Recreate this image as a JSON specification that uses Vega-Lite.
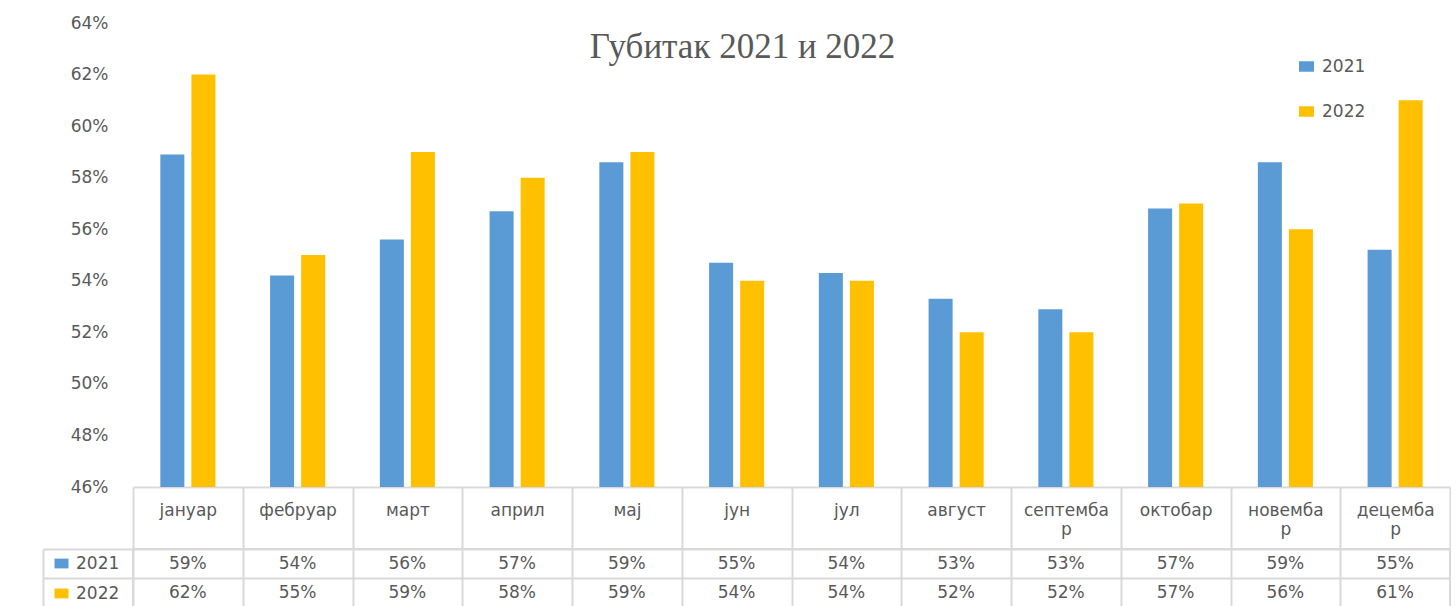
{
  "$schema": "https://vega.github.io/schema/vega-lite/v6.json",
  "background": "white",
  "padding": {"left": 41, "top": 14, "right": 0, "bottom": 0},
  "datasets": {
    "loss": [
      {"month": "јануар", "year": "2021", "value": 0.589},
      {"month": "јануар", "year": "2022", "value": 0.620},
      {"month": "фебруар", "year": "2021", "value": 0.542},
      {"month": "фебруар", "year": "2022", "value": 0.550},
      {"month": "март", "year": "2021", "value": 0.556},
      {"month": "март", "year": "2022", "value": 0.590},
      {"month": "април", "year": "2021", "value": 0.567},
      {"month": "април", "year": "2022", "value": 0.580},
      {"month": "мај", "year": "2021", "value": 0.586},
      {"month": "мај", "year": "2022", "value": 0.590},
      {"month": "јун", "year": "2021", "value": 0.547},
      {"month": "јун", "year": "2022", "value": 0.540},
      {"month": "јул", "year": "2021", "value": 0.543},
      {"month": "јул", "year": "2022", "value": 0.540},
      {"month": "август", "year": "2021", "value": 0.533},
      {"month": "август", "year": "2022", "value": 0.520},
      {"month": "септембар", "year": "2021", "value": 0.529},
      {"month": "септембар", "year": "2022", "value": 0.520},
      {"month": "октобар", "year": "2021", "value": 0.568},
      {"month": "октобар", "year": "2022", "value": 0.570},
      {"month": "новембар", "year": "2021", "value": 0.586},
      {"month": "новембар", "year": "2022", "value": 0.560},
      {"month": "децембар", "year": "2021", "value": 0.552},
      {"month": "децембар", "year": "2022", "value": 0.610}
    ]
  },
  "spacing": -2,
  "resolve": {"scale": {"color": "independent"}, "legend": {"color": "independent"}},
  "vconcat": [
    {
      "width": 1317,
      "height": 464,
      "data": {"name": "loss"},
      "view": {"stroke": null},
      "title": {
        "text": "Губитак 2021 и 2022",
        "font": "Liberation Serif",
        "fontSize": 35,
        "fontWeight": "normal",
        "color": "#595959",
        "anchor": "middle",
        "baseline": "alphabetic",
        "offset": -79,
        "dx": -49
      },
      "mark": {"type": "bar"},
      "encoding": {
        "x": {
          "field": "month", "type": "nominal", "sort": null, "title": null,
          "scale": {"paddingInner": 0, "paddingOuter": 0},
          "axis": {
            "orient": "bottom", "domain": true, "domainColor": "#d9d9d9", "domainWidth": 2,
            "ticks": true, "tickBand": "extent", "tickSize": 61, "tickColor": "#d9d9d9", "tickWidth": 2,
            "labelAngle": 0, "labelFont": "DejaVu Sans", "labelFontSize": 17, "labelColor": "#595959",
            "labelPadding": -38, "labelBaseline": "middle", "labelLineHeight": 19, "labelLimit": 300,
            "labelOverlap": false,
            "labelExpr": "length(datum.label) >= 8 ? [slice(datum.label, 0, length(datum.label) - 1), slice(datum.label, length(datum.label) - 1)] : datum.label"
          }
        },
        "xOffset": {"field": "year", "type": "nominal", "scale": {"paddingInner": 0.226, "paddingOuter": 0.88}},
        "y": {
          "field": "value", "type": "quantitative", "title": null,
          "scale": {"domain": [0.46, 0.64], "zero": false, "nice": false, "clamp": true},
          "axis": {
            "values": [0.46, 0.48, 0.50, 0.52, 0.54, 0.56, 0.58, 0.60, 0.62, 0.64],
            "format": ".0%", "labelFont": "DejaVu Sans", "labelFontSize": 17, "labelColor": "#595959",
            "labelPadding": 25, "domain": false, "ticks": false, "grid": false,
            "minExtent": 90, "maxExtent": 90
          }
        },
        "color": {
          "field": "year", "type": "nominal",
          "scale": {"domain": ["2021", "2022"], "range": ["#5b9bd5", "#ffc000"]},
          "legend": {
            "title": null, "orient": "none", "legendX": 1165, "legendY": 35, "direction": "vertical",
            "symbolType": "M-1,-0.7H1V0.7H-1Z", "symbolSize": 225, "symbolStrokeWidth": 0,
            "labelFont": "DejaVu Sans", "labelFontSize": 17, "labelColor": "#595959",
            "labelOffset": 7, "rowPadding": 27, "padding": 0
          }
        }
      }
    },
    {
      "width": 1317,
      "height": 58,
      "data": {"name": "loss"},
      "view": {"stroke": "#d9d9d9", "strokeWidth": 2},
      "encoding": {
        "x": {
          "field": "month", "type": "nominal", "sort": null, "title": null,
          "scale": {"paddingInner": 0, "paddingOuter": 0},
          "axis": {"grid": true, "tickBand": "extent", "gridColor": "#d9d9d9", "gridWidth": 2,
                   "labels": false, "ticks": false, "domain": false}
        },
        "y": {
          "field": "year", "type": "nominal", "title": null,
          "scale": {"paddingInner": 0, "paddingOuter": 0},
          "axis": {"grid": true, "tickBand": "extent", "gridColor": "#d9d9d9", "gridWidth": 2,
                   "labels": false, "offset": 90,
                   "domain": true, "domainColor": "#d9d9d9", "domainWidth": 2,
                   "ticks": true, "tickSize": -90, "tickColor": "#d9d9d9", "tickWidth": 2}
        }
      },
      "layer": [
        {
          "mark": {"type": "text", "font": "DejaVu Sans", "fontSize": 17, "color": "#595959"},
          "encoding": {
            "text": {"field": "value", "type": "quantitative", "format": ".0%"}
          }
        },
        {
          "mark": {"type": "square", "opacity": 0},
          "encoding": {
            "color": {
              "field": "year", "type": "nominal",
              "scale": {"domain": ["2021", "2022"], "range": ["#5b9bd5", "#ffc000"]},
              "legend": {
                "title": null, "orient": "none", "legendX": -80, "legendY": 6, "direction": "vertical",
                "symbolType": "M-1,-0.7H1V0.7H-1Z", "symbolSize": 196, "symbolStrokeWidth": 0,
                "symbolOpacity": 1,
                "labelFont": "DejaVu Sans", "labelFontSize": 17, "labelColor": "#595959",
                "labelOffset": 6, "rowPadding": 12, "padding": 0
              }
            }
          }
        }
      ]
    }
  ],
  "config": {"font": "DejaVu Sans"}
}
